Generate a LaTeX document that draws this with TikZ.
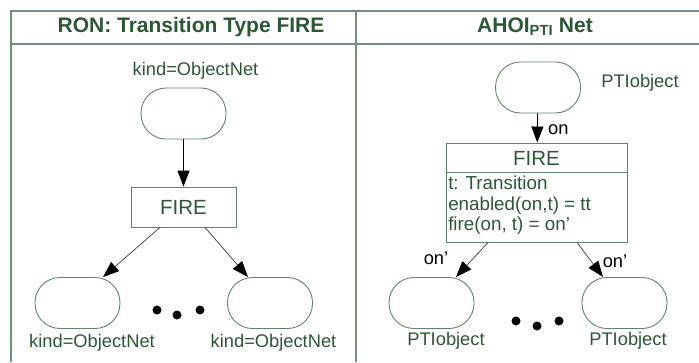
\documentclass[tikz,border=0pt]{standalone}
\usepackage{fontspec}
\setmainfont{Liberation Sans}
\usetikzlibrary{arrows.meta,calc}
\definecolor{txtgreen}{HTML}{2B5735}
\definecolor{linegreen}{HTML}{5E8468}
\definecolor{framegreen}{HTML}{6F9079}

\begin{document}
\begin{tikzpicture}[x=1pt,y=-1pt,
  lbl/.style={text=txtgreen, font=\fontsize{18.3}{20}\selectfont, inner sep=0pt},
  attr/.style={lbl, font=\fontsize{18.8}{20}\selectfont, anchor=base west},
  head/.style={text=txtgreen, font=\bfseries\fontsize{21}{24}\selectfont, inner sep=0pt},
  place/.style={draw=linegreen, line width=0.9pt, rounded corners=25pt,
    minimum width=85pt, minimum height=51pt, inner sep=0pt},
  trans/.style={draw=linegreen, line width=0.9pt, inner sep=0pt,
    text=txtgreen, font=\fontsize{20.5}{24}\selectfont},
  flow/.style={draw=black!70, line width=0.8pt, -{Triangle[length=16pt,width=12pt,black]}},
  dotmark/.style={circle, fill=black, minimum size=9pt, inner sep=0pt},
  frame/.style={draw=framegreen, line width=1.6pt}
]
\useasboundingbox (0,0) rectangle (699,362);

% table frame
\draw[frame] (11,362) -- (11,11) -- (699,11);
\draw[frame] (11,44) -- (699,44);
\draw[frame] (356,11) -- (356,362);

% headers
\node[head] (hL) at (191,27) {RON: Transition Type FIRE};
\node[head] (hR) at (535,27) {AHOI\textsubscript{PTI} Net};

% ---------- left panel ----------
\node[place] (pTop) at (183.5,113.5) {};
\node[lbl] (lTop) at (195.5,71) {kind=ObjectNet};
\node[trans, minimum width=105pt, minimum height=40pt] (fireL) at (183.5,207) {FIRE};
\node[place] (pL1) at (77.5,303) {};
\node[place] (pL2) at (270,303) {};
\node[lbl] (lL1) at (92,343) {kind=ObjectNet};
\node[lbl] (lL2) at (273.5,343) {kind=ObjectNet};

\draw[flow, draw=black, line width=1.1pt] (pTop) -- (fireL);
\draw[flow] ($(fireL.south)+(-23.5,0)$) -- ($(pL1.north)+(25.5,0)$);
\draw[flow] ($(fireL.south)+(21.5,0)$) -- ($(pL2.north)+(-22,0)$);

\node[dotmark] (dL1) at (157,310) {};
\node[dotmark] (dL2) at (177,315) {};
\node[dotmark] (dL3) at (200,310) {};

% ---------- right panel ----------
\node[place] (qTop) at (538,87.5) {};
\node[lbl] (mTop) at (640,83) {PTIobject};
\node[trans, minimum width=181pt, minimum height=99pt] (fireR) at (536.5,192.5) {};
\draw[draw=linegreen, line width=0.9pt] ($(fireR.north west)+(0,30)$) -- ($(fireR.north east)+(0,30)$);
\node[trans, draw=none] (fireRt) at ($(fireR.north)+(0,15.5)$) {FIRE};
\node[attr] (a1) at ($(fireR.north west)+(2.5,47)$) {t: Transition};
\node[attr] (a2) at ($(fireR.north west)+(2.5,67.5)$) {enabled(on,t) = tt};
\node[attr] (a3) at ($(fireR.north west)+(2.5,88)$) {fire(on, t) = on’};

\node[place] (qL1) at (431.5,303) {};
\node[place] (qL2) at (624.5,303) {};
\node[lbl] (mL1) at (446,341) {PTIobject};
\node[lbl] (mL2) at (628,341) {PTIobject};

\draw[flow, draw=black, line width=1pt] (qTop) -- (fireR);
\draw[flow] ($(fireR.south)+(-48.5,0)$) -- ($(qL1.north)+(24.5,0)$);
\draw[flow] ($(fireR.south)+(40.5,0)$) -- ($(qL2.north)+(-21.5,0)$);

\node[lbl, text=black, anchor=west] (on0) at (548,130) {on};
\node[lbl, text=black] (on1) at (436,258) {on’};
\node[lbl, text=black] (on2) at (615,261) {on’};

\node[dotmark] (dR1) at (516,321) {};
\node[dotmark] (dR2) at (537,326) {};
\node[dotmark] (dR3) at (559,321) {};
\end{tikzpicture}
\end{document}
